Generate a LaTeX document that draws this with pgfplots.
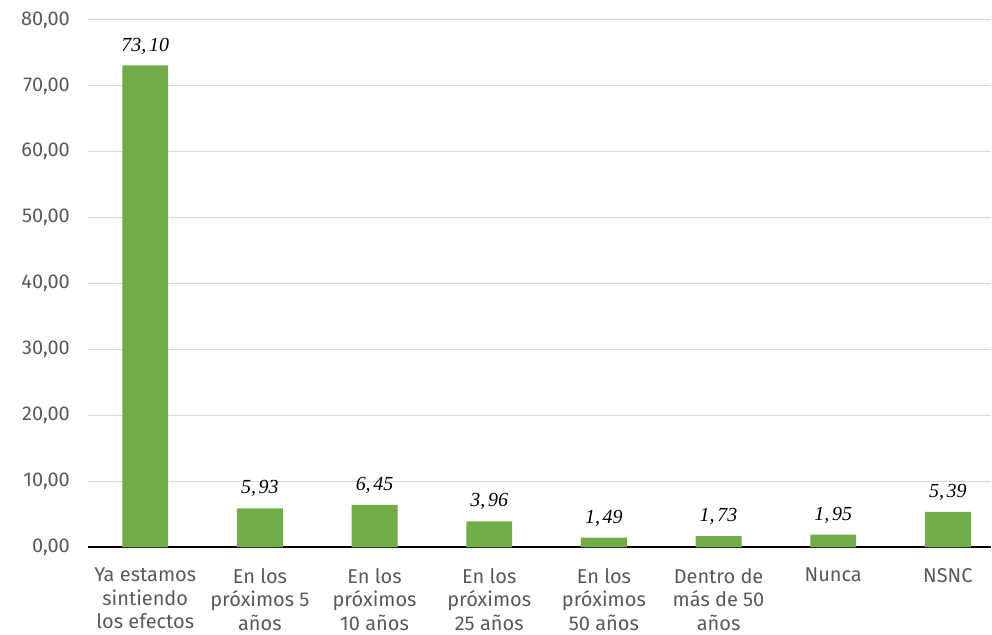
\documentclass[border=0pt]{standalone}
\usepackage{fontspec}
\setmainfont{Fira Sans}
\newfontfamily\valfont{Liberation Serif}
\usepackage{pgfplots}
\pgfplotsset{compat=1.18}
\definecolor{bargreen}{HTML}{70AD47}
\definecolor{gridgray}{HTML}{D9D9D9}
\definecolor{labgray}{HTML}{595959}

\begin{document}
\begin{tikzpicture}[x=1pt,y=1pt]
\begin{axis}[
    name=main,
    scale only axis,
    width=678pt,
    height=396pt,
    ybar,
    bar width=34.5pt,
    xmin=-0.5, xmax=7.376,
    ymin=0, ymax=80,
    ytick={0,10,...,80},
    xtick={0,...,7},
    xticklabels={Ya estamos\\sintiendo\\los efectos,En los\\próximos 5\\años,En los\\próximos\\10 años,En los\\próximos\\25 años,En los\\próximos\\50 años,Dentro de\\más de 50\\años,Nunca,NSNC},
    x tick label style={align=center, font=\fontsize{15}{17.6}\selectfont, text=labgray, anchor=north, yshift=-12pt},
    y tick label style={font=\fontsize{15}{16}\selectfont, text=labgray},
    /pgf/number format/assume math mode=true,
    /pgf/number format/.cd, fixed, fixed zerofill, precision=2, use comma, 1000 sep={},
    /pgfplots/.cd,
    yticklabel style={xshift=-10pt},
    ymajorgrids,
    grid style={gridgray, line width=0.75pt},
    axis x line*=bottom,
    axis y line*=left,
    y axis line style={draw=none},
    x axis line style={black, line width=1.5pt, -},
    major tick length=0pt,
    nodes near coords,
    nodes near coords={\pgfmathprintnumber[set decimal separator={,\kern2pt}]{\pgfplotspointmeta}},
    every node near coord/.append style={font=\valfont\itshape\fontsize{15}{16}\selectfont, text=black, anchor=south, yshift=5pt},
    clip=false,
]
\addplot[fill=bargreen, draw=none] coordinates {(0,73.10) (1,5.93) (2,6.45) (3,3.96) (4,1.49) (5,1.73) (6,1.95) (7,5.39)};
\end{axis}
\path[use as bounding box] ([xshift=-66pt,yshift=-65.25pt]main.south west) rectangle ([yshift=15pt]main.north east);
\end{tikzpicture}
\end{document}
